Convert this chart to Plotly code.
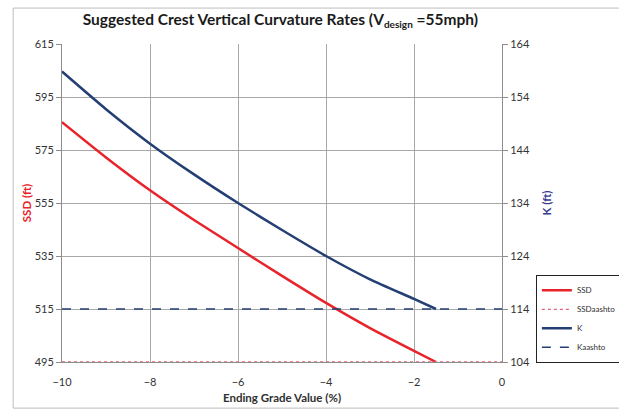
import plotly.graph_objects as go

grade = [-10, -9, -8, -7, -6, -5, -4, -3, -2, -1.5]
ssd = [585.5, 572.2, 559.8, 548.6, 538.0, 527.5, 517.3, 507.8, 499.2, 495]
k_vals = [158.8, 151.7, 145.2, 139.4, 134.0, 128.9, 124.0, 119.6, 115.9, 114]
aashto_x = [-10, 0]
ssd_aashto = [495, 495]
k_aashto = [114, 114]

RED = "#e8232a"
BLUE = "#243f73"
FONT = "Lato, 'Open Sans', sans-serif"

fig = go.Figure()
fig.add_trace(go.Scatter(x=grade, y=ssd, name="SSD", mode="lines",
                         line=dict(color=RED, width=2.5, shape="spline", smoothing=0.6), yaxis="y"))
fig.add_trace(go.Scatter(x=aashto_x, y=ssd_aashto, name="SSDaashto", mode="lines",
                         line=dict(color="#e8607a", width=1.3, dash="dot"), yaxis="y"))
fig.add_trace(go.Scatter(x=grade, y=k_vals, name="K", mode="lines",
                         line=dict(color=BLUE, width=2.5, shape="spline", smoothing=0.6), yaxis="y2"))
fig.add_trace(go.Scatter(x=aashto_x, y=k_aashto, name="Kaashto", mode="lines",
                         line=dict(color=BLUE, width=1.5, dash="dash"), yaxis="y2"))

tickfont = dict(family=FONT, size=11, color="#333333")
fig.update_layout(
    width=619, height=412,
    margin=dict(l=62, r=117, t=44, b=50, autoexpand=False),
    paper_bgcolor="white", plot_bgcolor="white",
    font=dict(family=FONT),
    title=dict(text="<b>Suggested Crest Vertical Curvature Rates (V<sub><span style='font-size:10px'>design</span></sub> =55mph)</b>",
               x=0.453, xanchor="center", y=0.952, yanchor="middle",
               font=dict(family=FONT, size=15.5, color="#1a1a1a")),
    xaxis=dict(range=[-10, 0], dtick=2, tick0=-10, showgrid=True, gridcolor="#a8a8a8",
               gridwidth=1, zeroline=False, showline=True, linecolor="#8c8c8c",
               ticks="", tickfont=tickfont, automargin=False, ticklabelstandoff=10,
               title=dict(text="<b>Ending Grade Value (%)</b>", standoff=6,
                          font=dict(family=FONT, size=11.5, color="#303030"))),
    yaxis=dict(range=[495, 615], dtick=20, tick0=495, showgrid=True, gridcolor="#a8a8a8",
               gridwidth=1, zeroline=False, showline=True, linecolor="#8c8c8c",
               ticks="outside", ticklen=5, tickcolor="#8c8c8c", tickfont=tickfont,
               automargin=False,
               title=dict(text="<b>SSD (ft)</b>", standoff=0,
                          font=dict(family=FONT, size=11.5, color=RED))),
    yaxis2=dict(range=[104, 164], dtick=10, tick0=104, overlaying="y", side="right",
                showgrid=False, zeroline=False, showline=True, linecolor="#8c8c8c",
                ticks="outside", ticklen=5, tickcolor="#8c8c8c", tickfont=tickfont,
                automargin=False,
                title=dict(text="<b>K (ft)</b>", standoff=13,
                           font=dict(family=FONT, size=11.5, color="#3b3b8f"))),
    legend=dict(x=1.077, y=0.274, xanchor="left", yanchor="top",
                bordercolor="#222222", borderwidth=1, bgcolor="white",
                font=dict(family=FONT, size=8, color="#303030"),
                tracegroupgap=0, itemwidth=30),
    showlegend=True,
)
fig.add_shape(type="rect", xref="paper", yref="paper",
              x0=-0.111, x1=1.3, y0=-0.145, y1=1.113,
              line=dict(color="#bdbdbd", width=1), layer="below")

fig.write_html("out.html")
